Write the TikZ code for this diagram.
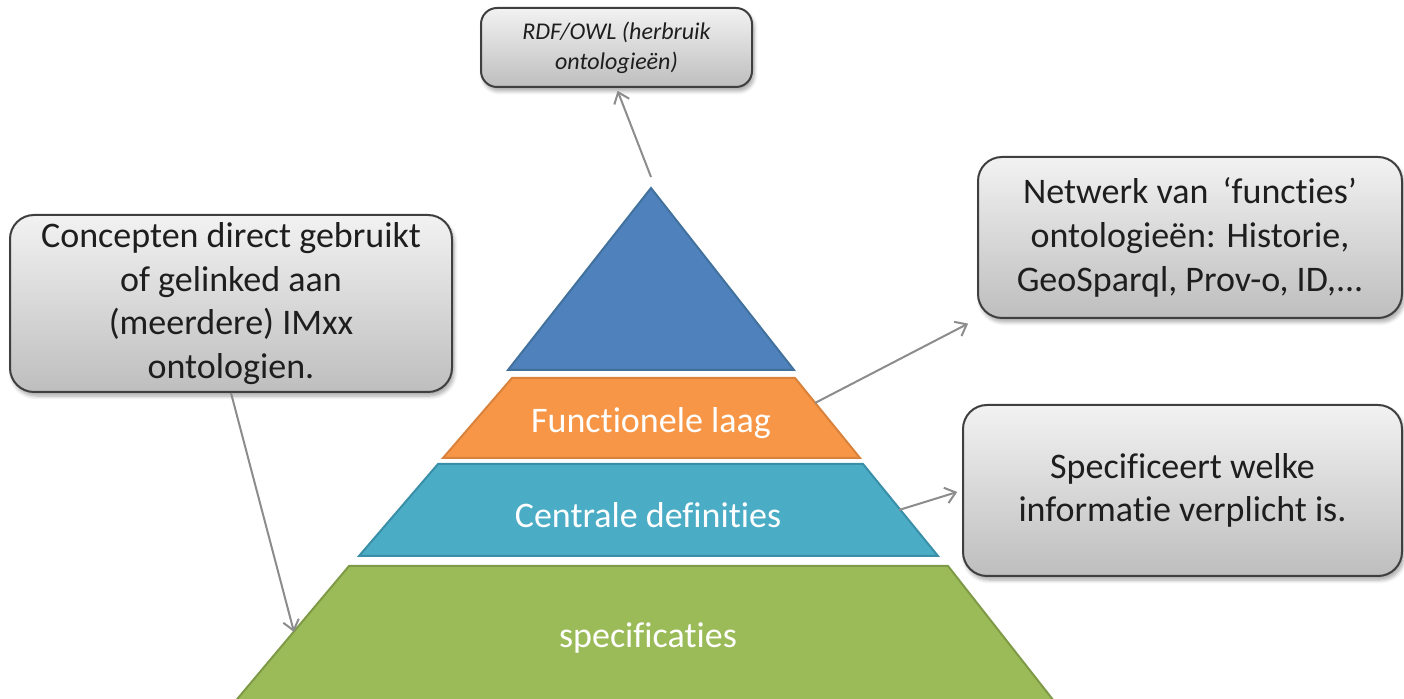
\documentclass[tikz,border=0pt]{standalone}
\usepackage{fontspec}
\setmainfont{Carlito}[Ligatures=NoCommon]
\usetikzlibrary{arrows.meta,shadows.blur}

\definecolor{layerblue}{HTML}{4F81BD}
\definecolor{layerblueline}{HTML}{41719C}
\definecolor{layerorange}{HTML}{F79646}
\definecolor{layerorangeline}{HTML}{D9823C}
\definecolor{layerteal}{HTML}{4BACC6}
\definecolor{layertealline}{HTML}{3A8FA8}
\definecolor{layergreen}{HTML}{9BBB59}
\definecolor{layergreenline}{HTML}{7F9A46}
\definecolor{boxtop}{HTML}{F2F2F2}
\definecolor{boxbottom}{HTML}{BEBEBE}
\definecolor{boxline}{HTML}{3F3F3F}
\definecolor{boxtext}{HTML}{1E1E1E}
\definecolor{linkgrey}{HTML}{8C8C8C}

\tikzset{
  notebox/.style={draw=boxline, line width=1pt, rounded corners=12pt,
    top color=boxtop, bottom color=boxbottom, align=center,
    text=boxtext, font=\fontsize{18}{21.8}\selectfont, inner sep=0pt,
    blur shadow={shadow xshift=1pt, shadow yshift=-2pt, shadow blur steps=6, shadow opacity=35}},
  layer/.style={line width=1pt, line join=miter},
  layerlabel/.style={text=white, font=\fontsize{18}{21.8}\selectfont, inner sep=0pt},
  link/.style={draw=linkgrey, line width=1pt,
    -{Straight Barb[length=5pt,width=8pt,line width=1pt]}}
}

\begin{document}
\begin{tikzpicture}[x=0.5pt, y=-0.5pt]
  \useasboundingbox (0,0) rectangle (1404,699);
  \clip (0,0) rectangle (1404,699);

  % pyramid layers, top to bottom
  \draw[layer, fill=layerblue, draw=layerblueline]
    (651,188) -- (794,370) -- (508,370) -- cycle;
  \draw[layer, fill=layerorange, draw=layerorangeline]
    (512,378) -- (795,378) -- (860,458) -- (443,458) -- cycle;
  \draw[layer, fill=layerteal, draw=layertealline]
    (438,464) -- (863,464) -- (938,556) -- (359,556) -- cycle;
  \draw[layer, fill=layergreen, draw=layergreenline]
    (349,566) -- (948,566) -- (1061,710) -- (228,710) -- cycle;

  \node[layerlabel] (functional) at (651,423) {Functionele laag};
  \node[layerlabel] (central)    at (648,515) {Centrale definities};
  \node[layerlabel] (specs)      at (648,638) {specificaties};

  % points on the layers where the links start or end
  \coordinate (apex)       at (651,177);
  \coordinate (orangeedge) at (815,403);
  \coordinate (tealedge)   at (899,510);
  \coordinate (greenedge)  at (294,632);

  % explanatory boxes
  \node[notebox, rounded corners=8pt, minimum width=135.5pt, minimum height=39.5pt,
        font=\fontsize{12}{15}\itshape\selectfont] (rdf) at (616.5,47.5)
        {RDF/OWL (herbruik\\ontologieën)};
  \node[notebox, minimum width=221pt, minimum height=88.5pt] (concepts) at (231,303.5)
        {Concepten direct gebruikt\\of gelinked aan\\(meerdere) IMxx\\ontologien.};
  \node[notebox, minimum width=212pt, minimum height=80.5pt] (network) at (1190,237.5)
        {Netwerk van \,‘functies’\\ontologieën: Historie,\\GeoSparql, Prov-o, ID,...};
  \node[notebox, minimum width=219.5pt, minimum height=85.5pt] (required) at (1182.5,490.5)
        {Specificeert welke\\informatie verplicht is.};

  % links
  \draw[link, shorten >=1.5pt] (apex) -- (rdf.south);
  \draw[link] (concepts.south) -- (greenedge);
  \draw[link, shorten >=5pt] (orangeedge) -- (network.south west);
  \draw[link, shorten >=2.5pt] (tealedge) -- (required.west);
\end{tikzpicture}
\end{document}
